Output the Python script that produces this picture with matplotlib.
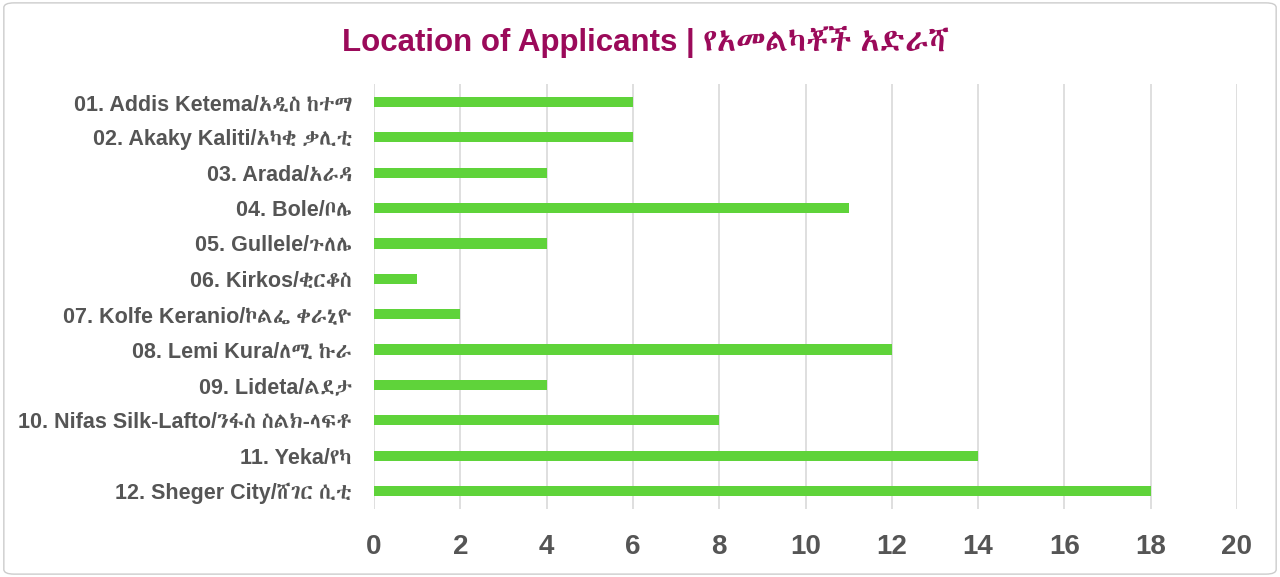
import matplotlib
matplotlib.use("Agg")
import matplotlib.pyplot as plt
from matplotlib import font_manager
from matplotlib.ft2font import FT2Font
from matplotlib.patches import FancyBboxPatch

title = "Location of Applicants | የአመልካቾች አድራሻ"
labels = [
    "01. Addis Ketema/አዲስ ከተማ",
    "02. Akaky Kaliti/አካቂ ቃሊቲ",
    "03. Arada/አራዳ",
    "04. Bole/ቦሌ",
    "05. Gullele/ጉለሌ",
    "06. Kirkos/ቂርቆስ",
    "07. Kolfe Keranio/ኮልፌ ቀራኒዮ",
    "08. Lemi Kura/ለሚ ኩራ",
    "09. Lideta/ልደታ",
    "10. Nifas Silk-Lafto/ንፋስ ስልክ-ላፍቶ",
    "11. Yeka/የካ",
    "12. Sheger City/ሸገር ሲቲ",
]
values = [6, 6, 4, 11, 4, 1, 2, 12, 4, 8, 14, 18]
xticks = [0, 2, 4, 6, 8, 10, 12, 14, 16, 18, 20]

# look for installed fonts with ethiopic glyphs, take the narrowest one
cands = []
for f in font_manager.fontManager.ttflist:
    try:
        ft = FT2Font(f.fname)
        if not ft.get_char_index(0x12A0):
            continue
        ft.set_size(20, 72)
        ft.load_char(0x12A0)
        w = ft.get_width_height()[0]
        adv = ft.load_char(0x12A0).linearHoriAdvance / ft.units_per_EM if hasattr(ft, "units_per_EM") else w
        cands.append((("Mono" in f.name), adv, f.name))
    except Exception:
        pass
cands.sort()
eth = cands[0][2] if cands else None

fams = ["Liberation Sans", "DejaVu Sans"]
if eth:
    fams = ["Liberation Sans", eth, "DejaVu Sans"]
plt.rcParams["font.family"] = fams

fig = plt.figure(figsize=(12.8, 5.77), dpi=100)
ax = fig.add_axes([0.2922, 0.1184, 0.6742, 0.7355])

y = list(range(len(labels)))
ax.barh(y, values, height=0.29, color="#5fd33a", zorder=3)
ax.set_ylim(len(labels) - 0.5, -0.5)
ax.set_xlim(0, 20)
ax.set_xticks(xticks)
ax.set_yticks(y)
ax.set_yticklabels(labels, fontsize=15.5, fontweight="bold", color="#555555")
ax.set_xticklabels([str(t) for t in xticks], fontsize=20, fontweight="bold", color="#555555")
ax.tick_params(axis="both", length=0)
ax.tick_params(axis="y", pad=16)
ax.tick_params(axis="x", pad=18.5)
ax.grid(axis="x", color="#d9d9d9", linewidth=1.2, zorder=0)
for s in ax.spines.values():
    s.set_visible(False)

fig.text(0.504, 0.928, title, ha="center", va="center", fontsize=22.5,
         fontweight="bold", color="#9b0a5a")

border = FancyBboxPatch((0.003, 0.005), 0.994, 0.99, boxstyle="round,pad=0,rounding_size=0.008",
                        transform=fig.transFigure, fill=False, edgecolor="#cccccc", linewidth=1)
fig.patches.append(border)

fig.savefig("out.png", dpi=100)
